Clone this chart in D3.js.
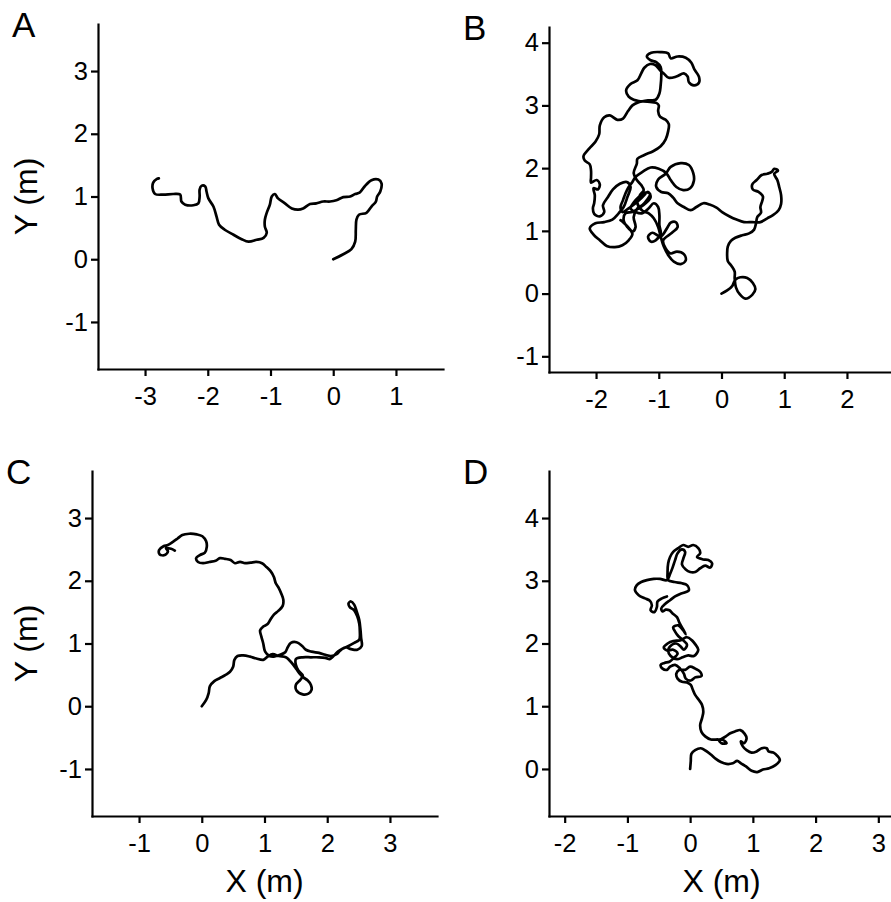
<!DOCTYPE html>
<html>
<head>
<meta charset="utf-8">
<script src="https://cdn.jsdelivr.net/npm/d3@7"></script>
<style>
	body { margin: 0; background: #fff; }
	text { font-family: "Liberation Sans", Arial, Helvetica, sans-serif; fill: #000; }
</style>
</head>
<body>
<svg id="chart" width="891" height="902"></svg>
<script>

// Trajectories, X/Y in metres

var trackA = [
	[0,0],[0.16,0.08],[0.29,0.16],[0.35,0.28],[0.36,0.47],[0.37,0.63],[0.41,0.71],[0.53,0.74],
	[0.61,0.84],[0.68,0.92],[0.70,1.00],[0.75,1.08],[0.77,1.21],[0.72,1.27],[0.61,1.26],[0.50,1.16],
	[0.42,1.06],[0.35,1.04],[0.27,1.00],[0.16,0.99],[0.05,0.94],[-0.05,0.92],[-0.16,0.92],[-0.27,0.89],
	[-0.37,0.88],[-0.48,0.81],[-0.56,0.79],[-0.66,0.81],[-0.77,0.89],[-0.88,0.97],[-0.93,1.04],[-0.98,1.00],
	[-1.01,0.87],[-1.06,0.74],[-1.09,0.63],[-1.09,0.52],[-1.06,0.42],[-1.11,0.34],[-1.22,0.31],[-1.35,0.28],
	[-1.46,0.32],[-1.59,0.39],[-1.73,0.47],[-1.82,0.55],[-1.86,0.68],[-1.91,0.84],[-1.99,0.97],[-2.02,1.08],
	[-2.04,1.16],[-2.10,1.17],[-2.13,1.11],[-2.13,1.00],[-2.15,0.89],[-2.23,0.86],[-2.36,0.87],[-2.42,0.92],
	[-2.44,1.03],[-2.55,1.04],[-2.71,1.03],[-2.84,1.04],[-2.88,1.13],[-2.87,1.22],[-2.81,1.28],[-2.78,1.29]
];

var trackB = [
	[0,0],[0.09,0.05],[0.17,0.12],[0.22,0.22],[0.30,0.26],[0.41,0.25],[0.50,0.17],[0.54,0.07],
	[0.49,-0.02],[0.38,-0.08],[0.29,-0.01],[0.23,0.10],[0.21,0.24],[0.21,0.35],[0.16,0.44],[0.10,0.52],
	[0.09,0.64],[0.10,0.75],[0.15,0.84],[0.22,0.89],[0.33,0.93],[0.44,0.96],[0.52,1.02],[0.55,1.12],
	[0.57,1.22],[0.63,1.29],[0.62,1.38],[0.65,1.48],[0.66,1.55],[0.59,1.62],[0.50,1.66],[0.49,1.74],
	[0.56,1.81],[0.64,1.89],[0.73,1.91],[0.80,1.94],[0.84,1.99],[0.90,1.96],[0.84,1.91],[0.89,1.81],
	[0.92,1.70],[0.95,1.57],[0.95,1.43],[0.91,1.33],[0.82,1.25],[0.73,1.20],[0.62,1.14],[0.49,1.14],
	[0.36,1.14],[0.24,1.18],[0.13,1.23],[0.01,1.30],[-0.08,1.37],[-0.19,1.42],[-0.29,1.44],[-0.40,1.38],
	[-0.49,1.33],[-0.60,1.38],[-0.70,1.44],[-0.77,1.53],[-0.85,1.60],[-0.96,1.62],[-1.04,1.70],[-1.01,1.82],
	[-0.89,1.91],[-0.81,2.02],[-0.65,2.08],[-0.52,2.05],[-0.45,1.92],[-0.44,1.80],[-0.50,1.68],[-0.61,1.65],
	[-0.72,1.70],[-0.81,1.81],[-0.88,1.92],[-1.00,1.99],[-1.13,2.01],[-1.26,1.94],[-1.37,1.86],[-1.42,1.78],
	[-1.48,1.70],[-1.53,1.60],[-1.57,1.49],[-1.61,1.38],[-1.58,1.30],[-1.48,1.36],[-1.37,1.44],[-1.26,1.54],
	[-1.17,1.62],[-1.13,1.54],[-1.21,1.44],[-1.32,1.36],[-1.42,1.30],[-1.53,1.28],[-1.56,1.17],[-1.50,1.06],
	[-1.42,0.99],[-1.37,1.06],[-1.40,1.22],[-1.34,1.36],[-1.26,1.41],[-1.19,1.49],[-1.14,1.59],[-1.21,1.61],
	[-1.32,1.54],[-1.40,1.45],[-1.45,1.36],[-1.37,1.30],[-1.26,1.28],[-1.16,1.36],[-1.08,1.44],[-1.01,1.38],
	[-0.99,1.25],[-0.99,1.09],[-0.97,0.96],[-1.05,0.85],[-1.13,0.83],[-1.17,0.91],[-1.10,0.97],[-0.97,0.91],
	[-0.87,1.04],[-0.81,1.13],[-0.73,1.14],[-0.70,1.06],[-0.79,0.97],[-0.93,0.85],[-0.89,0.72],[-0.81,0.64],
	[-0.71,0.67],[-0.60,0.63],[-0.57,0.53],[-0.65,0.47],[-0.76,0.51],[-0.84,0.60],[-0.92,0.75],[-0.97,0.91],
	[-1.01,1.06],[-1.08,1.20],[-1.16,1.28],[-1.26,1.32],[-1.34,1.44],[-1.30,1.57],[-1.24,1.65],[-1.28,1.73],
	[-1.35,1.81],[-1.40,1.92],[-1.35,2.07],[-1.34,2.15],[-1.23,2.21],[-1.09,2.27],[-0.97,2.35],[-0.89,2.46],
	[-0.85,2.59],[-0.84,2.70],[-0.89,2.77],[-0.98,2.82],[-1.01,2.91],[-1.00,3.00],[-1.04,3.04],[-1.18,3.06],
	[-1.32,3.07],[-1.40,3.09],[-1.48,3.14],[-1.52,3.24],[-1.45,3.34],[-1.34,3.40],[-1.28,3.51],[-1.23,3.60],
	[-1.14,3.66],[-1.05,3.64],[-0.98,3.56],[-0.92,3.51],[-0.84,3.44],[-0.72,3.46],[-0.60,3.51],[-0.54,3.46],
	[-0.52,3.37],[-0.44,3.32],[-0.36,3.36],[-0.36,3.46],[-0.43,3.57],[-0.48,3.68],[-0.57,3.76],[-0.70,3.78],
	[-0.81,3.75],[-0.85,3.83],[-0.97,3.85],[-1.12,3.84],[-1.19,3.78],[-1.13,3.72],[-1.04,3.69],[-0.97,3.61],
	[-0.96,3.48],[-0.97,3.32],[-0.99,3.19],[-1.05,3.09],[-1.17,3.08],[-1.32,3.05],[-1.42,3.00],[-1.49,2.91],
	[-1.57,2.79],[-1.66,2.77],[-1.78,2.84],[-1.87,2.81],[-1.94,2.68],[-1.95,2.54],[-2.01,2.42],[-2.11,2.31],
	[-2.20,2.19],[-2.18,2.12],[-2.10,2.06],[-2.08,1.96],[-2.08,1.85],[-2.08,1.77],[-1.99,1.81],[-1.94,1.74],
	[-1.97,1.66],[-2.04,1.68],[-2.02,1.57],[-2.03,1.44],[-2.05,1.36],[-2.03,1.27],[-1.94,1.23],[-1.87,1.30],
	[-1.89,1.41],[-1.81,1.54],[-1.73,1.66],[-1.62,1.75],[-1.51,1.78],[-1.45,1.70],[-1.50,1.54],[-1.56,1.38],
	[-1.64,1.28],[-1.74,1.18],[-1.87,1.14],[-2.01,1.12],[-2.10,1.04],[-2.04,0.94],[-1.94,0.85],[-1.83,0.76],
	[-1.70,0.74],[-1.58,0.77],[-1.48,0.85],[-1.42,0.95],[-1.48,1.05],[-1.56,1.13],[-1.61,1.17]
];

var trackC = [
	[0,0],[0.07,0.10],[0.11,0.21],[0.13,0.32],[0.20,0.40],[0.29,0.45],[0.38,0.50],[0.45,0.55],
	[0.50,0.63],[0.52,0.74],[0.57,0.80],[0.66,0.81],[0.77,0.79],[0.87,0.76],[0.98,0.74],[1.05,0.79],
	[1.13,0.83],[1.23,0.80],[1.34,0.78],[1.40,0.73],[1.46,0.66],[1.51,0.59],[1.56,0.52],[1.62,0.46],
	[1.69,0.41],[1.74,0.34],[1.75,0.26],[1.70,0.20],[1.61,0.19],[1.51,0.25],[1.50,0.34],[1.57,0.42],
	[1.61,0.49],[1.54,0.57],[1.50,0.66],[1.50,0.75],[1.61,0.78],[1.74,0.78],[1.87,0.78],[1.97,0.77],
	[2.04,0.75],[2.09,0.79],[2.17,0.87],[2.25,0.92],[2.34,0.96],[2.43,1.01],[2.51,1.06],[2.52,1.19],
	[2.51,1.32],[2.48,1.43],[2.43,1.53],[2.36,1.58],[2.34,1.64],[2.38,1.67],[2.43,1.62],[2.47,1.51],
	[2.51,1.38],[2.53,1.22],[2.54,1.09],[2.55,0.96],[2.48,0.90],[2.38,0.91],[2.29,0.94],[2.21,0.89],
	[2.15,0.83],[2.06,0.80],[1.97,0.82],[1.87,0.85],[1.75,0.87],[1.66,0.90],[1.60,0.96],[1.51,1.02],
	[1.42,1.01],[1.37,0.94],[1.33,0.86],[1.25,0.82],[1.15,0.79],[1.08,0.80],[1.01,0.87],[0.98,1.00],
	[0.95,1.11],[0.93,1.21],[0.98,1.27],[1.05,1.31],[1.10,1.39],[1.15,1.46],[1.22,1.52],[1.29,1.60],
	[1.30,1.70],[1.27,1.79],[1.23,1.88],[1.18,1.96],[1.15,2.06],[1.10,2.15],[1.03,2.22],[0.96,2.28],
	[0.87,2.30],[0.78,2.29],[0.69,2.28],[0.61,2.30],[0.53,2.28],[0.46,2.33],[0.37,2.35],[0.29,2.36],
	[0.22,2.32],[0.12,2.30],[0.02,2.28],[-0.06,2.30],[-0.09,2.36],[-0.03,2.41],[0.05,2.45],[0.08,2.54],
	[0.07,2.63],[0.01,2.71],[-0.08,2.74],[-0.20,2.75],[-0.31,2.73],[-0.39,2.67],[-0.46,2.62],[-0.54,2.57],
	[-0.61,2.55],[-0.68,2.49],[-0.67,2.42],[-0.59,2.41],[-0.54,2.47],[-0.57,2.52],[-0.49,2.51],[-0.43,2.48]
];

var trackD = [
	[0,0],[0.01,0.12],[0.02,0.24],[0.08,0.30],[0.17,0.33],[0.25,0.29],[0.33,0.23],[0.41,0.16],
	[0.49,0.11],[0.58,0.08],[0.68,0.09],[0.75,0.13],[0.81,0.09],[0.89,0.04],[0.98,-0.03],[1.07,-0.05],
	[1.16,-0.01],[1.26,0.01],[1.36,0.06],[1.43,0.14],[1.39,0.21],[1.33,0.26],[1.25,0.28],[1.22,0.33],
	[1.14,0.33],[1.06,0.28],[0.98,0.26],[0.90,0.30],[0.84,0.36],[0.81,0.44],[0.86,0.41],[0.90,0.49],
	[0.87,0.56],[0.80,0.62],[0.72,0.60],[0.64,0.57],[0.57,0.52],[0.50,0.48],[0.46,0.46],[0.50,0.41],
	[0.58,0.41],[0.53,0.46],[0.45,0.47],[0.33,0.47],[0.24,0.52],[0.18,0.59],[0.16,0.70],[0.19,0.81],
	[0.21,0.91],[0.19,1.02],[0.14,1.10],[0.08,1.18],[0.04,1.27],[0.01,1.34],[-0.05,1.38],[-0.13,1.39],
	[-0.20,1.44],[-0.22,1.52],[-0.17,1.58],[-0.08,1.58],[0.00,1.63],[0.08,1.60],[0.16,1.55],[0.18,1.48],
	[0.08,1.46],[0.01,1.41],[-0.07,1.44],[-0.10,1.52],[-0.16,1.60],[-0.24,1.66],[-0.32,1.63],[-0.37,1.58],
	[-0.44,1.60],[-0.47,1.66],[-0.41,1.69],[-0.33,1.71],[-0.27,1.76],[-0.20,1.84],[-0.27,1.90],[-0.37,1.89],
	[-0.42,1.94],[-0.36,2.00],[-0.27,2.04],[-0.16,2.05],[-0.05,2.10],[0.03,2.05],[0.08,1.99],[0.13,1.90],
	[0.06,1.80],[-0.03,1.81],[-0.12,1.78],[-0.21,1.75],[-0.31,1.80],[-0.35,1.89],[-0.29,1.98],[-0.22,2.00],
	[-0.15,1.95],[-0.10,1.90],[-0.05,1.98],[-0.11,2.05],[-0.19,2.12],[-0.24,2.19],[-0.27,2.26],[-0.19,2.29],
	[-0.12,2.22],[-0.07,2.15],[-0.17,2.33],[-0.21,2.42],[-0.28,2.48],[-0.33,2.53],[-0.39,2.54],[-0.44,2.51],
	[-0.46,2.56],[-0.40,2.63],[-0.32,2.69],[-0.24,2.75],[-0.16,2.79],[-0.07,2.82],[-0.02,2.85],[-0.05,2.93],
	[-0.13,2.96],[-0.25,2.98],[-0.35,3.01],[-0.36,3.13],[-0.35,3.28],[-0.32,3.38],[-0.27,3.46],[-0.19,3.52],
	[-0.11,3.57],[-0.03,3.54],[0.05,3.57],[0.13,3.52],[0.16,3.44],[0.11,3.38],[0.21,3.34],[0.29,3.33],
	[0.35,3.28],[0.32,3.21],[0.24,3.24],[0.16,3.20],[0.08,3.14],[0.00,3.14],[-0.07,3.18],[-0.13,3.26],
	[-0.11,3.35],[-0.08,3.46],[-0.13,3.50],[-0.20,3.44],[-0.24,3.33],[-0.28,3.21],[-0.32,3.11],[-0.37,3.01],
	[-0.48,3.03],[-0.58,3.03],[-0.69,3.01],[-0.78,2.98],[-0.85,2.93],[-0.88,2.85],[-0.82,2.77],[-0.72,2.72],
	[-0.64,2.68],[-0.61,2.61],[-0.63,2.53],[-0.57,2.50],[-0.53,2.58],[-0.52,2.67],[-0.45,2.72],[-0.37,2.75]
];

// Axis ticks for each panel
var ticksAx = [-3, -2, -1, 0, 1];
var ticksAy = [-1, 0, 1, 2, 3];
var ticksBx = [-2, -1, 0, 1, 2];
var ticksBy = [-1, 0, 1, 2, 3, 4];
var ticksCx = [-1, 0, 1, 2, 3];
var ticksCy = [-1, 0, 1, 2, 3];
var ticksDx = [-2, -1, 0, 1, 2, 3];
var ticksDy = [0, 1, 2, 3, 4];

var panelLabels = ["A", "B", "C", "D"];
var xTitle = "X (m)";
var yTitle = "Y (m)";

var size = 345;

var panels = [
	{ label: panelLabels[0], track: trackA, xd: [-3.75, 1.75], yd: [-1.75, 3.75], xt: ticksAx, yt: ticksAy, left: 98, bottom: 369, showY: true, showX: false },
	{ label: panelLabels[1], track: trackB, xd: [-2.75, 2.75], yd: [-1.25, 4.25], xt: ticksBx, yt: ticksBy, left: 549, bottom: 372, showY: false, showX: false },
	{ label: panelLabels[2], track: trackC, xd: [-1.75, 3.75], yd: [-1.75, 3.75], xt: ticksCx, yt: ticksCy, left: 92, bottom: 816, showY: true, showX: true },
	{ label: panelLabels[3], track: trackD, xd: [-2.25, 3.25], yd: [-0.75, 4.75], xt: ticksDx, yt: ticksDy, left: 549, bottom: 816, showY: false, showX: true }
];

var svg = d3.select("#chart");

panels.forEach(function (p) {

	var x = d3.scaleLinear().domain(p.xd).range([0, size]);
	var y = d3.scaleLinear().domain(p.yd).range([size, 0]);

	var g = svg.append("g")
		.attr("transform", "translate(" + p.left + "," + (p.bottom - size) + ")");

	// trajectory
	var line = d3.line()
		.x(function (d) { return x(d[0]); })
		.y(function (d) { return y(d[1]); })
		.curve(d3.curveCatmullRom.alpha(0.5));

	g.append("path")
		.datum(p.track)
		.attr("d", line)
		.attr("fill", "none")
		.attr("stroke", "#000")
		.attr("stroke-width", 2.7)
		.attr("stroke-linejoin", "round")
		.attr("stroke-linecap", "round");

	// axes
	g.append("g")
		.attr("transform", "translate(0," + size + ")")
		.call(d3.axisBottom(x).tickValues(p.xt).tickSize(7).tickSizeOuter(0).tickPadding(11)
			.tickFormat(function (d) { return String(d); }));

	g.append("g")
		.call(d3.axisLeft(y).tickValues(p.yt).tickSize(7).tickSizeOuter(0).tickPadding(3)
			.tickFormat(function (d) { return String(d); }));

	g.selectAll(".domain")
		.attr("stroke", "#000")
		.attr("stroke-width", 2.2)
		.attr("stroke-linecap", "square");

	g.selectAll(".tick line")
		.attr("stroke", "#000")
		.attr("stroke-width", 2.2);

	g.selectAll(".tick text")
		.attr("fill", "#000")
		.style("font-family", "'Liberation Sans', Arial, sans-serif")
		.style("font-size", "25.5px");

	// panel letter
	svg.append("text")
		.attr("x", p.left - 86)
		.attr("y", p.bottom - size + 13)
		.style("font-size", "35px")
		.text(p.label);

	if (p.showY) {
		svg.append("text")
			.attr("transform", "translate(37," + (p.bottom - size / 2) + ") rotate(-90)")
			.attr("text-anchor", "middle")
			.style("font-size", "32px")
			.text(yTitle);
	}

	if (p.showX) {
		svg.append("text")
			.attr("x", p.left + size / 2)
			.attr("y", 892)
			.attr("text-anchor", "middle")
			.style("font-size", "32px")
			.text(xTitle);
	}
});

</script>
</body>
</html>
